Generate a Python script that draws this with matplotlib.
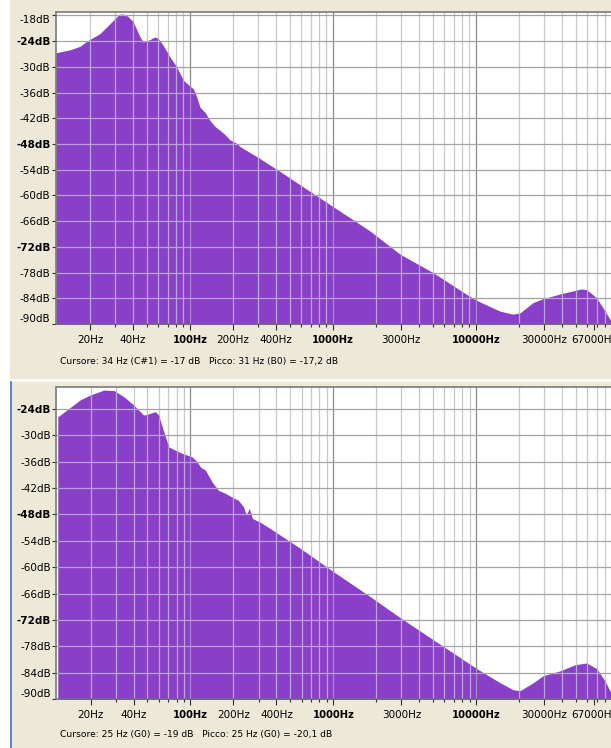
import matplotlib
matplotlib.use('Agg')
import matplotlib.pyplot as plt
from matplotlib.ticker import NullFormatter
from matplotlib.patches import Rectangle
from matplotlib.lines import Line2D

W, H = 611, 748
BEIGE = '#ece9d8'
PURPLE = '#8a3fc8'

# ---------------- data (Hz, dB) ----------------
top_freq = [11.56, 14.5, 17.0, 19.0, 23.5, 27.6, 31.4, 33.3, 35.1, 36.8, 40.1,
            44.7, 47.1, 51.1, 56.9, 60.0, 64.7, 72.5, 80.7, 89.8, 100, 105.5,
            111.4, 117.4, 127.3, 138, 149.5, 162, 175.7, 190, 213, 224, 263,
            309, 362, 426, 587, 1000, 1315, 1815, 2942, 5003, 8610, 10115,
            14720, 18150, 20330, 25060, 29440, 38650, 54800, 59400, 69800,
            79800, 87900]
top_db = [-26.7, -26.0, -25.2, -24.0, -22.2, -19.9, -18.0, -17.6, -17.8, -18.2,
          -19.5, -23.0, -24.2, -23.8, -23.0, -23.4, -24.9, -27.7, -30.0, -33.1,
          -34.5, -35.1, -37.0, -39.4, -40.6, -42.5, -43.9, -44.8, -45.8, -47.0,
          -47.9, -48.6, -50.0, -51.4, -52.9, -54.4, -57.5, -62.6, -65.2, -68.3,
          -73.7, -78.0, -83.1, -84.5, -87.0, -87.7, -87.4, -85.0, -84.1, -83.0,
          -81.8, -82.0, -83.9, -87.0, -89.3]

bot_freq = [11.8, 13.7, 17.0, 20.0, 24.8, 29.1, 34.2, 40.1, 47.1, 51.1, 56.9,
            60.0, 63.4, 66.8, 70.5, 76.4, 87.5, 94.8, 102.8, 111.4, 117.4,
            127.3, 142.5, 157, 175.7, 196.6, 216.6, 234.9, 246.4, 258.6, 271.4,
            309, 362, 587, 1000, 1815, 2942, 5003, 10115, 14720, 18150, 20330,
            25060, 29440, 38650, 49200, 59400, 69800, 79800, 87900]
bot_db = [-25.8, -24.2, -21.9, -20.8, -19.7, -19.8, -21.2, -23.1, -25.4, -25.1,
          -24.6, -25.4, -28.0, -30.3, -32.6, -33.2, -34.1, -34.5, -34.9, -36.0,
          -37.2, -37.9, -40.7, -42.5, -43.2, -44.1, -44.8, -46.2, -48.2, -46.6,
          -48.9, -49.8, -51.2, -55.7, -61.0, -66.7, -71.5, -76.5, -83.1, -86.3,
          -87.9, -88.1, -86.3, -84.7, -83.6, -82.2, -81.8, -83.1, -85.9, -88.6]

x_ticks = [20, 40, 100, 200, 400, 1000, 3000, 10000, 30000, 67000]
x_labels = ['20Hz', '40Hz', '100Hz', '200Hz', '400Hz', '1000Hz', '3000Hz',
            '10000Hz', '30000Hz', '67000Hz']
x_bold = [100, 1000, 10000]
y_ticks = [-90, -84, -78, -72, -66, -60, -54, -48, -42, -36, -30, -24, -18]
y_bold = [-24, -48, -72]

top_status = 'Cursore: 34 Hz (C#1) = -17 dB   Picco: 31 Hz (B0) = -17,2 dB'
bot_status = 'Cursore: 25 Hz (G0) = -19 dB   Picco: 25 Hz (G0) = -20,1 dB'

plt.rcParams['font.family'] = ['DejaVu Sans']

fig = plt.figure(figsize=(W / 100, H / 100), dpi=100)
fig.patch.set_facecolor('white')


def px_rect(x0, y0, x1, y1):
    return [x0 / W, 1 - y1 / H, (x1 - x0) / W, (y1 - y0) / H]


# panel backgrounds
fig.add_artist(Rectangle((10 / W, 1 - 378 / H), 1 - 10 / W, 378 / H,
                         transform=fig.transFigure, color=BEIGE, zorder=0))
fig.add_artist(Rectangle((11 / W, 0), 1 - 11 / W, 1 - 382 / H,
                         transform=fig.transFigure, color=BEIGE, zorder=0))
fig.add_artist(Line2D([10.5 / W, 10.5 / W], [0, 1 - 382 / H],
                      transform=fig.transFigure, color='#3a6fd0', lw=1.2))

grid_freqs = [m * 10 ** e for e in range(1, 5) for m in range(1, 10)]
XMIN, XMAX = 11.56, 87900


def make_panel(rect, freq, db, ytop, status, status_y):
    ax = fig.add_axes(px_rect(*rect))
    ax.set_facecolor('white')
    ax.set_xscale('log')
    poly = ax.fill_between(freq, db, -100, color=PURPLE, lw=0, zorder=1)
    clip = (poly.get_paths()[0], ax.transData)

    hlines = [y for y in y_ticks[1:] if y < ytop]
    # grid on white (below fill)
    for f in grid_freqs:
        major = f in (100, 1000, 10000)
        ax.axvline(f, color='#8c8c8c' if major else '#c8c8c8', lw=0.9,
                   zorder=0.5)
        ln = ax.axvline(f, color='#a58cc6' if major else '#bba6d8', lw=0.9,
                        zorder=2)
        ln.set_clip_path(*clip)
    for y in hlines:
        ax.axhline(y, color='#a4a4a4', lw=0.9, zorder=0.5)
        ln = ax.axhline(y, color='#b9a3d6', lw=0.9, zorder=2)
        ln.set_clip_path(*clip)

    for s in ['top', 'left', 'bottom']:
        ax.spines[s].set_color('#707070')
        ax.spines[s].set_linewidth(1.1)
        ax.spines[s].set_zorder(3)
    ax.spines['right'].set_visible(False)

    ax.set_xticks(x_ticks)
    ax.set_xticklabels(x_labels)
    ax.set_xticks(grid_freqs, minor=True)
    ax.xaxis.set_minor_formatter(NullFormatter())
    ax.tick_params(axis='x', which='major', length=4, width=0.8,
                   color='#303030', pad=4, labelsize=7.5)
    ax.tick_params(axis='x', which='minor', length=2, width=0.8,
                   color='#303030')
    for lab, v in zip(ax.get_xticklabels(), x_ticks):
        if v in x_bold:
            lab.set_fontweight('bold')
            lab.set_fontsize(7.2)

    yt = [v for v in y_ticks if v <= ytop]
    ax.set_yticks(yt)
    ax.set_yticklabels(['%ddB' % v for v in yt])
    ax.tick_params(axis='y', which='major', length=3, width=0.8,
                   color='#303030', pad=1, labelsize=7.5)
    for lab, v in zip(ax.get_yticklabels(), yt):
        if v in y_bold:
            lab.set_fontweight('bold')
        if v == -90:
            lab.set_va('bottom')
        if v == -18:
            lab.set_va('top')

    ax.set_xlim(XMIN, XMAX)
    ax.set_ylim(-90, ytop)

    fig.text(60 / W, 1 - status_y / H, status, fontsize=6.6, va='center',
             ha='left', color='black')
    return ax


make_panel((56, 12.5, 611, 324), top_freq, top_db, -17.3, top_status, 362)
make_panel((56.5, 387, 611, 699), bot_freq, bot_db, -19.0, bot_status, 735)

fig.savefig('out.png', dpi=100, facecolor=fig.get_facecolor())
